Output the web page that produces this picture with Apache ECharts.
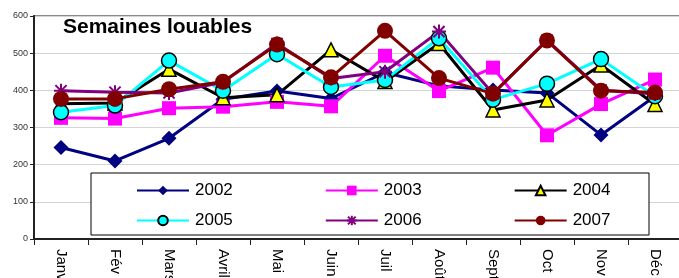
<!DOCTYPE html>
<html>
<head>
<meta charset="utf-8">
<script src="https://cdn.jsdelivr.net/npm/echarts@6/dist/echarts.min.js"></script>
<style>
  html, body { margin: 0; padding: 0; background: #fff; }
  #chart { width: 679px; height: 278px; }
</style>
</head>
<body>
<div id="chart"></div>
<script>
// mois
let months = ['Janv', 'Fév', 'Mars', 'Avril', 'Mai', 'Juin', 'Juil', 'Août', 'Sept', 'Oct', 'Nov', 'Déc'];
let yTicks = [0, 100, 200, 300, 400, 500, 600];

let s2002 = [246, 210, 271, 376, 398, 378, 448, 412, 401, 393, 280, 384];
let s2003 = [326, 324, 352, 356, 369, 357, 493, 398, 461, 279, 363, 429];
let s2004 = [364, 366, 457, 380, 388, 509, 424, 526, 347, 374, 468, 362];
let s2005 = [341, 359, 480, 399, 497, 409, 428, 540, 375, 418, 484, 384];
let s2006 = [399, 395, 393, 422, 526, 432, 450, 558, 391, 535, 401, 390];
let s2007 = [377, 377, 403, 423, 523, 435, 560, 433, 391, 534, 399, 394];

let chart = echarts.init(document.getElementById('chart'));

let mkSeries = function (name, data, color, symbol, size, border) {
  return {
    name: name,
    type: 'line',
    data: data,
    symbol: symbol,
    symbolSize: size,
    lineStyle: { color: color, width: 3 },
    itemStyle: border ? { color: border.fill, borderColor: '#000', borderWidth: 1.5 } : { color: color },
    color: color
  };
};

let legendBase = {
  orient: 'horizontal',
  itemWidth: 52,
  itemHeight: 12,
  itemGap: 92,
  padding: 0,
  textStyle: { fontFamily: 'Liberation Sans, Arial', fontSize: 17, color: '#000', padding: [0, 0, 0, 1] }
};

chart.setOption({
  backgroundColor: '#fff',
  animation: false,
  title: {
    text: 'Semaines louables',
    left: 63,
    top: 17,
    padding: 0,
    textStyle: { fontFamily: 'Liberation Sans, Arial', fontSize: 21, fontWeight: 'bold', color: '#000' }
  },
  graphic: [{
    type: 'rect',
    shape: { x: 91, y: 173, width: 558, height: 62 },
    style: { fill: '#fff', stroke: '#000', lineWidth: 1 },
    z: 5
  }],
  legend: [
    Object.assign({ left: 136, top: 182, data: ['2002', '2003', '2004'], z: 10 }, legendBase),
    Object.assign({ left: 136, top: 212, data: ['2005', '2006', '2007'], z: 10 }, legendBase)
  ],
  grid: {
    left: 34, top: 16, bottom: 39, right: -3,
    outerBoundsMode: 'none',
    containLabel: false,
    show: true, borderColor: '#888', borderWidth: 2
  },
  xAxis: {
    type: 'category',
    data: months,
    boundaryGap: true,
    axisLine: { lineStyle: { color: '#222', width: 2 } },
    axisTick: { show: true, alignWithLabel: false, length: 6, lineStyle: { color: '#222', width: 1 } },
    axisLabel: {
      rotate: -90, margin: 10, interval: 0,
      fontFamily: 'Liberation Sans, Arial', fontSize: 15, color: '#000'
    }
  },
  yAxis: {
    type: 'value',
    min: yTicks[0], max: yTicks[yTicks.length - 1], interval: 100,
    axisLine: { show: true, lineStyle: { color: '#222', width: 2 } },
    axisTick: { show: true, length: 4, lineStyle: { color: '#222' } },
    axisLabel: { fontFamily: 'Liberation Sans, Arial', fontSize: 9, color: '#333', margin: 6 },
    splitLine: { lineStyle: { color: '#d4d4d4', width: 1 } }
  },
  series: [
    mkSeries('2002', s2002, '#000080', 'diamond', 15),
    mkSeries('2003', s2003, '#ff00ff', 'rect', 14),
    mkSeries('2004', s2004, '#000000', 'triangle', 14, { fill: '#ffff00' }),
    mkSeries('2005', s2005, '#00ffff', 'circle', 15, { fill: '#00ffff' }),
    mkSeries('2006', s2006, '#800080', 'path://M0,5 L10,5 M5,0 L5,10 M1,1 L9,9 M9,1 L1,9', 14),
    mkSeries('2007', s2007, '#800000', 'circle', 16)
  ]
});

// star marker needs a stroke
chart.setOption({
  series: [{}, {}, {}, {}, { itemStyle: { color: '#800080', borderColor: '#800080', borderWidth: 2 } }, {}]
});
</script>
</body>
</html>
